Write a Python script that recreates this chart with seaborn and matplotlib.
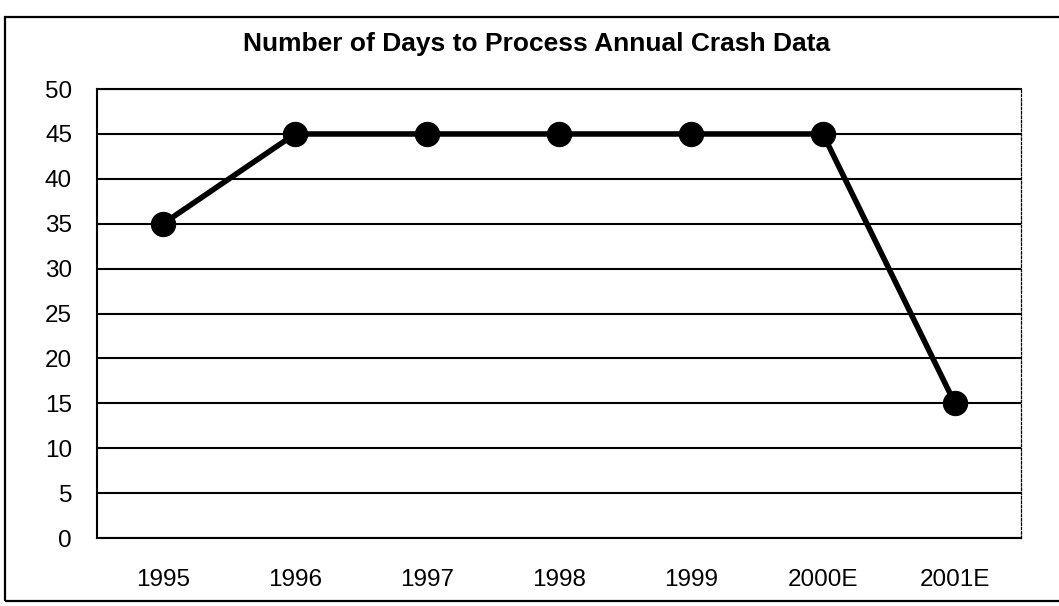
import matplotlib
matplotlib.use("Agg")
import matplotlib.pyplot as plt
from matplotlib.patches import Rectangle
import seaborn as sns
import pandas as pd

years = ["1995", "1996", "1997", "1998", "1999", "2000E", "2001E"]
days = [35, 45, 45, 45, 45, 45, 15]
y_ticks = [0, 5, 10, 15, 20, 25, 30, 35, 40, 45, 50]

sns.set_theme(style="white")
plt.rcParams["font.family"] = ["Liberation Sans", "DejaVu Sans"]

df = pd.DataFrame({"Year": years, "Days": days})

fig = plt.figure(figsize=(10.59, 6.06), dpi=100)
ax = fig.add_axes([0.0916, 0.1122, 0.8724, 0.7408])

sns.lineplot(data=df, x="Year", y="Days", ax=ax, color="black",
             linewidth=4, marker="o", markersize=17.5,
             markeredgecolor="black", markerfacecolor="black", sort=False)

ax.set_xlim(-0.5, len(years) - 0.5)
ax.set_ylim(0, 50)
ax.set_yticks(y_ticks)
ax.set_yticklabels([str(v) for v in y_ticks])
ax.set_xlabel("")
ax.set_ylabel("")
ax.grid(False)
for v in y_ticks:
    ax.axhline(v, color="black", linewidth=1.5, zorder=1)

ax.tick_params(axis="y", length=0, pad=18, labelsize=17.5, colors="black")
ax.tick_params(axis="x", length=0, pad=22, labelsize=17.5, colors="black")

for side in ["left", "bottom", "top"]:
    ax.spines[side].set_color("black")
    ax.spines[side].set_linewidth(1.5)
ax.spines["right"].set_color("black")
ax.spines["right"].set_linewidth(0.9)
ax.spines["right"].set_linestyle((0, (2, 1.5)))

fig.text(0.507, 0.928, "Number of Days to Process Annual Crash Data",
         ha="center", va="center", fontsize=19, fontweight="bold", color="black")

fig.patches.append(Rectangle((5 / 1059, 5 / 606), 1.1, 584 / 606,
                             transform=fig.transFigure, fill=False,
                             edgecolor="black", linewidth=1.6))

fig.savefig("out.png", dpi=100, facecolor="white")
